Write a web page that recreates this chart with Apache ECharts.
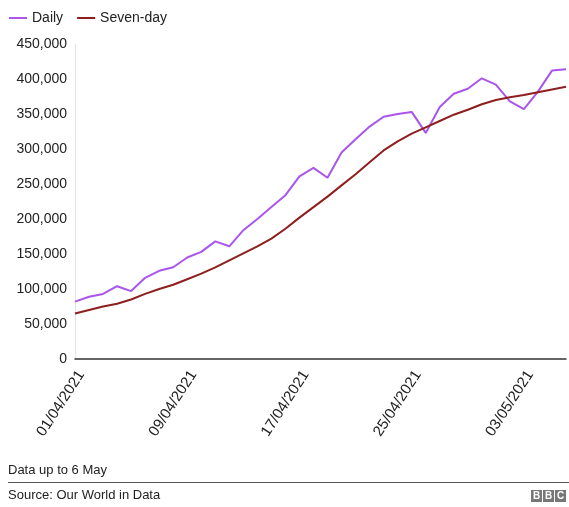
<!DOCTYPE html>
<html>
<head>
<meta charset="utf-8">
<script src="https://cdn.jsdelivr.net/npm/echarts@6/dist/echarts.min.js"></script>
<style>
  html, body { margin: 0; padding: 0; background: #fff; }
  #chart { width: 569px; height: 507px; }
</style>
</head>
<body>
<div id="chart"></div>
<script>
// Dates 01/04/2021 .. 06/05/2021
const dates = [];
for (let d = 1; d <= 30; d++) dates.push(String(d).padStart(2, '0') + '/04/2021');
for (let d = 1; d <= 6; d++) dates.push(String(d).padStart(2, '0') + '/05/2021');

const daily = [
  82000, 89000, 93000, 104000, 97000, 116000, 126000, 131000, 145000, 153000,
  168000, 161000, 184000, 200000, 217000, 234000, 261000, 273000, 259000, 295000,
  314000, 332000, 346000, 350000, 353000, 323000, 360000, 379000, 386000, 401000,
  392000, 368000, 357000, 382000, 412000, 414000
];

const sevenDay = [
  65000, 70000, 75000, 79000, 85000, 93000, 100000, 106000, 114000, 122000,
  131000, 141000, 151000, 161000, 172000, 186000, 202000, 217000, 232000, 248000,
  264000, 281000, 298000, 311000, 322000, 331000, 340000, 349000, 356000, 364000,
  370000, 374000, 377000, 381000, 385000, 389000
];

const yTicks = [0, 50000, 100000, 150000, 200000, 250000, 300000, 350000, 400000, 450000];

const purple = '#a955ee';
const brown = '#8f1e1e';
const font = 'Liberation Sans, Arial, sans-serif';

const chart = echarts.init(document.getElementById('chart'));

const option = {
  animation: false,
  textStyle: { fontFamily: font },
  legend: {
    left: 4,
    top: 6,
    itemWidth: 18,
    itemHeight: 2,
    itemGap: 14,
    icon: 'rect',
    textStyle: { fontSize: 14, color: '#222', fontFamily: font },
    data: ['Daily', 'Seven-day']
  },
  grid: { left: 75, right: 3, top: 44, bottom: 148 },
  xAxis: {
    type: 'category',
    data: dates,
    boundaryGap: false,
    axisLine: { lineStyle: { color: '#333', width: 1.5 } },
    axisTick: { show: false },
    axisLabel: {
      rotate: 57,
      interval: 7,
      fontSize: 15,
      color: '#222',
      margin: 9,
      verticalAlign: 'top',
      fontFamily: font
    }
  },
  yAxis: {
    type: 'value',
    min: yTicks[0],
    max: yTicks[yTicks.length - 1],
    interval: 50000,
    axisLine: { show: true, lineStyle: { color: '#e4e4e4' } },
    axisTick: { show: false },
    splitLine: { show: false },
    axisLabel: {
      fontSize: 14,
      color: '#222',
      margin: 8,
      fontFamily: font,
      formatter: v => v.toLocaleString('en-US')
    }
  },
  series: [
    {
      name: 'Daily',
      type: 'line',
      data: daily,
      symbol: 'none',
      lineStyle: { width: 2, color: purple },
      itemStyle: { color: purple }
    },
    {
      name: 'Seven-day',
      type: 'line',
      data: sevenDay,
      symbol: 'none',
      lineStyle: { width: 2, color: brown },
      itemStyle: { color: brown }
    }
  ],
  graphic: [
    { type: 'text', left: 8, top: 464, style: { text: 'Data up to 6 May', fontSize: 13, fill: '#222', fontFamily: font } },
    { type: 'rect', shape: { x: 8, y: 482, width: 561, height: 1 }, style: { fill: '#555' } },
    { type: 'text', left: 8, top: 489, style: { text: 'Source: Our World in Data', fontSize: 13, fill: '#222', fontFamily: font } },
    { type: 'rect', shape: { x: 531, y: 490, width: 11, height: 12 }, style: { fill: '#777' } },
    { type: 'rect', shape: { x: 543, y: 490, width: 11, height: 12 }, style: { fill: '#777' } },
    { type: 'rect', shape: { x: 555, y: 490, width: 11, height: 12 }, style: { fill: '#777' } },
    { type: 'text', x: 536.5, y: 496, style: { text: 'B', fontSize: 10, fontWeight: 'bold', fill: '#fff', align: 'center', verticalAlign: 'middle', fontFamily: font } },
    { type: 'text', x: 548.5, y: 496, style: { text: 'B', fontSize: 10, fontWeight: 'bold', fill: '#fff', align: 'center', verticalAlign: 'middle', fontFamily: font } },
    { type: 'text', x: 560.5, y: 496, style: { text: 'C', fontSize: 10, fontWeight: 'bold', fill: '#fff', align: 'center', verticalAlign: 'middle', fontFamily: font } }
  ]
};

chart.setOption(option);
window.addEventListener('resize', () => chart.resize());
</script>
</body>
</html>
